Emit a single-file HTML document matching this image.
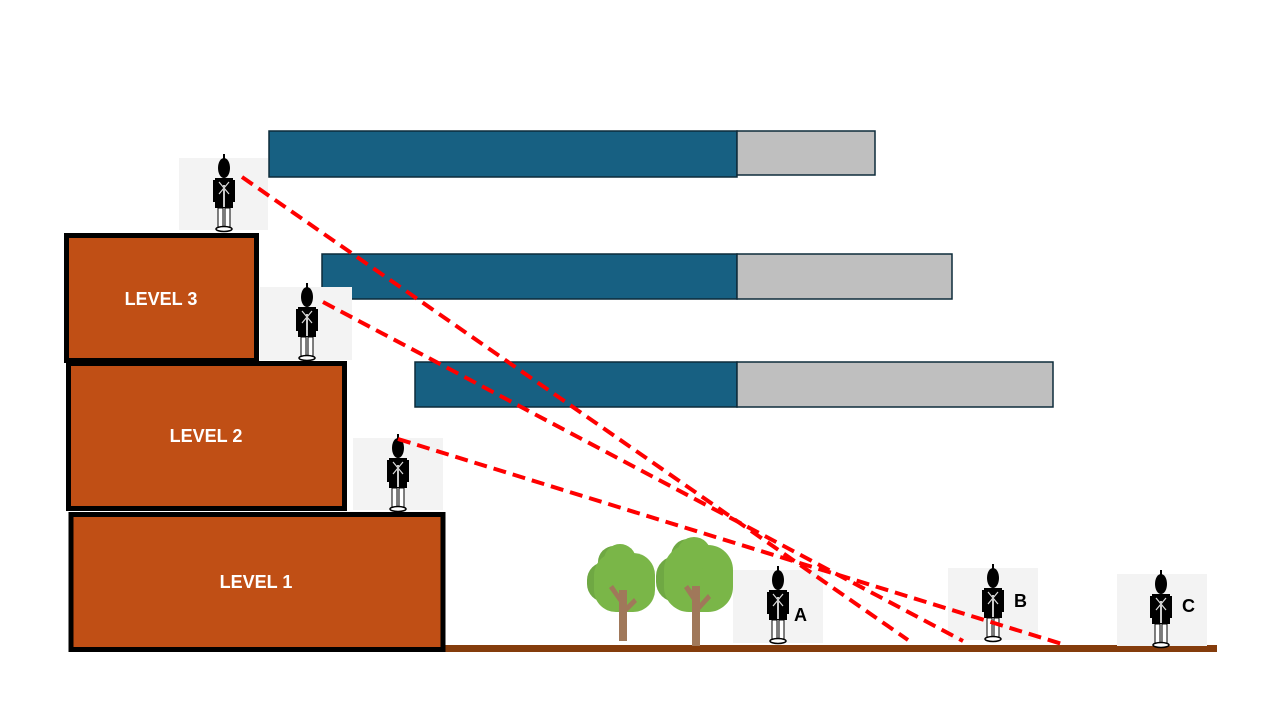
<!DOCTYPE html>
<html><head><meta charset="utf-8"><style>
html,body{margin:0;padding:0;background:#fff;width:1280px;height:720px;overflow:hidden}
svg{display:block}
</style></head><body>
<svg width="1280" height="720" viewBox="0 0 1280 720" xmlns="http://www.w3.org/2000/svg">
<defs>
<g id="sol">
  <ellipse cx="0" cy="-62" rx="6" ry="10" fill="#000"/>
  <rect x="-1" y="-76" width="2" height="6" fill="#000"/>
  <path d="M-9,-52 h18 v30 h-18z" fill="#000"/>
  <rect x="-11" y="-50" width="4" height="22" fill="#000"/>
  <rect x="7" y="-50" width="4" height="22" fill="#000"/>
  <path d="M-5,-48 L5,-36 M5,-48 L-5,-36" stroke="#ddd" stroke-width="1.2"/>
  <rect x="-1" y="-45" width="2" height="22" fill="#ccc"/>
  <rect x="-6" y="-22" width="5" height="20" fill="#fff" stroke="#000" stroke-width="1"/>
  <rect x="1" y="-22" width="5" height="20" fill="#fff" stroke="#000" stroke-width="1"/>
  <ellipse cx="0" cy="-1" rx="8" ry="2.5" fill="#fff" stroke="#000" stroke-width="1.5"/>
</g>
</defs>

<!-- bars -->
<rect x="269" y="131" width="468" height="46" fill="#176082" stroke="#0d2b3a" stroke-width="1.5"/>
<rect x="737" y="131" width="138" height="44" fill="#BFBFBF" stroke="#0d2b3a" stroke-width="1.5"/>
<rect x="322" y="254" width="415" height="45" fill="#176082" stroke="#0d2b3a" stroke-width="1.5"/>
<rect x="737" y="254" width="215" height="45" fill="#BFBFBF" stroke="#0d2b3a" stroke-width="1.5"/>
<rect x="415" y="362" width="322" height="45" fill="#176082" stroke="#0d2b3a" stroke-width="1.5"/>
<rect x="737" y="362" width="316" height="45" fill="#BFBFBF" stroke="#0d2b3a" stroke-width="1.5"/>

<!-- ground -->
<rect x="444" y="645" width="773" height="7" fill="#843C0C"/>

<!-- blocks -->
<rect x="66.5" y="235.5" width="190" height="125" fill="#C04F15" stroke="#000" stroke-width="5"/>
<rect x="68.5" y="363.5" width="276" height="145" fill="#C04F15" stroke="#000" stroke-width="5"/>
<rect x="71" y="514.5" width="372" height="135" fill="#C04F15" stroke="#000" stroke-width="5"/>
<g font-family="Liberation Sans, sans-serif" font-weight="bold" font-size="18" fill="#fff" text-anchor="middle">
<text x="161" y="305">LEVEL 3</text>
<text x="206" y="442">LEVEL 2</text>
<text x="256" y="588">LEVEL 1</text>
</g>

<!-- soldier backgrounds -->
<g fill="#f3f3f3">
<rect x="179" y="158" width="89" height="72"/>
<rect x="260" y="287" width="92" height="73"/>
<rect x="353" y="438" width="90" height="72"/>
<rect x="733" y="570" width="90" height="73"/>
<rect x="948" y="568" width="90" height="72"/>
<rect x="1117" y="574" width="90" height="72"/>
</g>
<use href="#sol" x="224" y="230"/>
<use href="#sol" x="307" y="359"/>
<use href="#sol" x="398" y="510"/>
<use href="#sol" x="778" y="642"/>
<use href="#sol" x="993" y="640"/>
<use href="#sol" x="1161" y="646"/>

<!-- trees -->
<g fill="#6FA843">
<rect x="587" y="562" width="40" height="40" rx="18"/>
<circle cx="614" cy="562" r="16"/>
<rect x="656" y="556" width="44" height="46" rx="20"/>
<circle cx="688" cy="556" r="17"/>
</g>
<g fill="#7AB648">
<rect x="594" y="553" width="61" height="59" rx="22"/>
<circle cx="620" cy="560" r="16"/>
<rect x="664" y="545" width="69" height="67" rx="25"/>
<circle cx="694" cy="554" r="17"/>
</g>
<g fill="#A0785A">
<rect x="619" y="590" width="8" height="51"/>
<path d="M619,602 L609,588 L613,585 L621,597z"/>
<path d="M626,606 L634,598 L637,602 L627,612z"/>
<rect x="692" y="586" width="8" height="60"/>
<path d="M692,600 L684,588 L688,585 L696,596z"/>
<path d="M699,604 L708,594 L711,598 L700,610z"/>
</g>

<!-- sight lines -->
<g stroke="#FF0000" stroke-width="4" stroke-dasharray="13,7" fill="none">
<line x1="242" y1="177" x2="908" y2="640"/>
<line x1="323" y1="302" x2="963" y2="641"/>
<line x1="398" y1="439" x2="1062" y2="644"/>
</g>

<g font-family="Liberation Sans, sans-serif" font-weight="bold" font-size="18" fill="#000">
<text x="794" y="621">A</text>
<text x="1014" y="607">B</text>
<text x="1182" y="612">C</text>
</g>
</svg>
</body></html>
